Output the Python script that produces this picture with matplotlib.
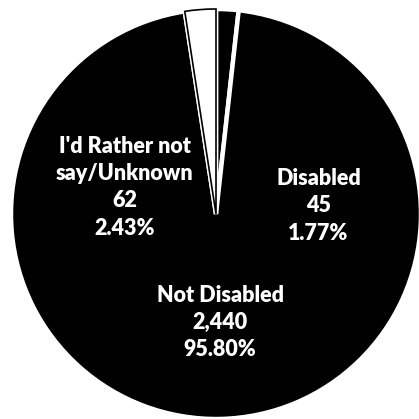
import matplotlib
matplotlib.use("Agg")
import matplotlib.pyplot as plt

# disability status breakdown
labels = ["Disabled", "Not Disabled", "I'd Rather not\nsay/Unknown"]
counts = [45, 2440, 62]
percents = [1.77, 95.80, 2.43]
fills = ["black", "black", "white"]

# where each label block sits (data units, pie radius = 1)
label_xy = [(0.50, 0.04), (0.02, -0.53), (-0.445, 0.13)]

plt.rcParams["font.family"] = ["Lato", "DejaVu Sans"]

fig = plt.figure(figsize=(4.19, 4.19), dpi=100)
ax = fig.add_axes([0, 0, 1, 1])

wedges, _ = ax.pie(counts, startangle=90, counterclock=False, colors=fills,
                   wedgeprops=dict(edgecolor="white", linewidth=3.2))

# thin black outline around the white slice, sitting inside the white border
outline, _ = ax.pie(counts, startangle=90, counterclock=False,
                    wedgeprops=dict(facecolor="none", edgecolor="none"))
for w, c in zip(outline, fills):
    if c == "white":
        w.set_edgecolor("black")
        w.set_linewidth(1.2)

for lab, n, p, (x, y) in zip(labels, counts, percents, label_xy):
    ax.text(x, y, f"{lab}\n{n:,}\n{p:.2f}%", color="white", ha="center",
            va="center", fontsize=15.5, fontweight="heavy", linespacing=1.37)

ax.set_xlim(-216 / 205, 203 / 205)
ax.set_ylim(-205 / 205, 214 / 205)
ax.set_aspect("equal")
ax.axis("off")

fig.savefig("out.png", dpi=100, facecolor="white")
